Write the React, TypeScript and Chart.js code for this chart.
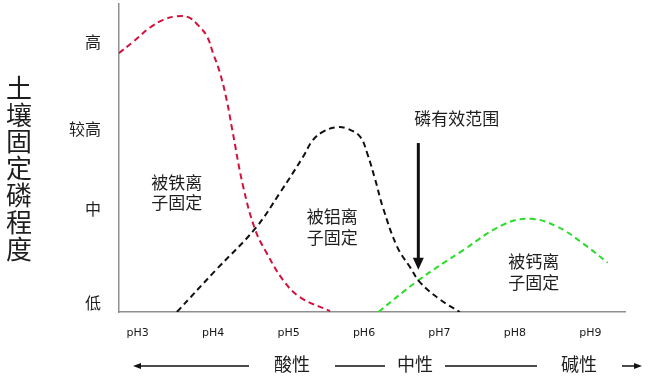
import React, { useEffect, useRef } from 'react';
import { Chart, registerables } from 'chart.js';

Chart.register(...registerables);

// x ticks (pH)
const phValues = [3, 4, 5, 6, 7, 8, 9];
const phLabels = ['pH3', 'pH4', 'pH5', 'pH6', 'pH7', 'pH8', 'pH9'];
// y ticks (fixing level)
const levelValues = [0.1, 1.17, 2.08, 3.07];
const levelLabels = ['低', '中', '较高', '高'];

// 被铁离子固定 (red)
const ironX = [2.75, 2.94, 3.16, 3.34, 3.52, 3.67, 3.8, 3.92, 4.0, 4.09, 4.18, 4.25, 4.4, 4.56, 4.71, 4.93, 5.15, 5.55];
const ironY = [2.94, 3.07, 3.23, 3.32, 3.36, 3.35, 3.26, 3.13, 2.94, 2.72, 2.41, 2.09, 1.42, 0.93, 0.67, 0.36, 0.17, 0.01];
// 被铝离子固定 (black)
const alX = [3.52, 4.04, 4.56, 4.89, 5.19, 5.32, 5.46, 5.64, 5.79, 5.95, 6.04, 6.15, 6.25, 6.44, 6.61, 6.74, 7.01, 7.27];
const alY = [0, 0.48, 0.95, 1.36, 1.76, 1.95, 2.05, 2.1, 2.08, 1.99, 1.81, 1.5, 1.19, 0.74, 0.51, 0.34, 0.14, 0];
// 被钙离子固定 (green)
const caX = [6.19, 6.72, 7.31, 7.84, 8.2, 8.56, 8.9, 9.23];
const caY = [0, 0.36, 0.7, 0.99, 1.06, 0.97, 0.78, 0.56];

const yTitleChars = ['土', '壤', '固', '定', '磷', '程', '度'];

const CJK = '"Noto Sans CJK SC", "Noto Sans", sans-serif';
const TEXT = '#1e1e1e';

const toPts = (xs: number[], ys: number[]) => xs.map((x, i) => ({ x, y: ys[i] }));

const annotationPlugin = {
  id: 'annotations',
  afterDraw(chart: any) {
    const { ctx, scales } = chart;
    const xs = scales.x;
    const ys = scales.y;
    const X = (v: number) => xs.getPixelForValue(v);
    const Y = (v: number) => ys.getPixelForValue(v);
    ctx.save();
    ctx.fillStyle = TEXT;
    ctx.strokeStyle = '#111';
    ctx.textAlign = 'center';
    ctx.textBaseline = 'middle';

    // region labels
    ctx.font = `17px ${CJK}`;
    const labels: [string, number, number][] = [
      ['被铁离', 3.52, 1.47],
      ['子固定', 3.52, 1.24],
      ['被铝离', 5.58, 1.08],
      ['子固定', 5.58, 0.85],
      ['被钙离', 8.25, 0.57],
      ['子固定', 8.25, 0.33],
      ['磷有效范围', 7.23, 2.2],
    ];
    labels.forEach(([t, x, y]) => ctx.fillText(t, X(x), Y(y)));

    // vertical arrow
    const ax = X(6.72);
    const ay0 = Y(1.92);
    const ay1 = Y(0.48);
    ctx.lineWidth = 3;
    ctx.beginPath();
    ctx.moveTo(ax, ay0);
    ctx.lineTo(ax, ay1 - 10);
    ctx.stroke();
    ctx.fillStyle = '#111';
    ctx.beginPath();
    ctx.moveTo(ax - 5.5, ay1 - 12);
    ctx.lineTo(ax + 5.5, ay1 - 12);
    ctx.lineTo(ax, ay1);
    ctx.closePath();
    ctx.fill();

    // y title (vertical stacked)
    ctx.fillStyle = TEXT;
    ctx.font = `26px ${CJK}`;
    yTitleChars.forEach((c, i) => ctx.fillText(c, 19, 88 + i * 26.8));

    // bottom row: acid - neutral - alkaline
    const by = 366;
    ctx.font = `18px ${CJK}`;
    ctx.fillText('酸性', 292, by - 2);
    ctx.fillText('中性', 415, by - 2);
    ctx.fillText('碱性', 579, by - 2);
    ctx.lineWidth = 1.6;
    ctx.strokeStyle = '#111';
    ctx.fillStyle = '#111';
    ctx.beginPath();
    ctx.moveTo(139, by);
    ctx.lineTo(249, by);
    ctx.moveTo(335, by);
    ctx.lineTo(385, by);
    ctx.moveTo(445, by);
    ctx.lineTo(537, by);
    ctx.moveTo(622, by);
    ctx.lineTo(636, by);
    ctx.stroke();
    ctx.beginPath();
    ctx.moveTo(133, by);
    ctx.lineTo(141, by - 3);
    ctx.lineTo(141, by + 3);
    ctx.closePath();
    ctx.fill();
    ctx.beginPath();
    ctx.moveTo(642, by);
    ctx.lineTo(634, by - 3);
    ctx.lineTo(634, by + 3);
    ctx.closePath();
    ctx.fill();
    ctx.restore();
  },
};

export default function App() {
  const ref = useRef<HTMLCanvasElement | null>(null);

  useEffect(() => {
    if (!ref.current) return;
    const lineDs = (label: string, pts: any, color: string) => ({
      label,
      data: pts,
      borderColor: color,
      backgroundColor: color,
      borderWidth: 2,
      borderDash: [6, 4],
      pointRadius: 0,
      fill: false,
      tension: 0.4,
    });
    const chart = new Chart(ref.current, {
      type: 'line',
      data: {
        datasets: [
          lineDs('被铁离子固定', toPts(ironX, ironY), '#d4113c'),
          lineDs('被铝离子固定', toPts(alX, alY), '#111111'),
          lineDs('被钙离子固定', toPts(caX, caY), '#2bdc2b'),
        ],
      },
      options: {
        animation: false,
        responsive: false,
        maintainAspectRatio: false,
        layout: { autoPadding: false, padding: { left: 0, top: 4, right: 37, bottom: 0 } },
        plugins: {
          legend: { display: false },
          tooltip: { enabled: false },
        },
        scales: {
          x: {
            type: 'linear',
            min: 2.753,
            max: 9.459,
            grid: { display: true, drawOnChartArea: false, drawTicks: false },
            border: { display: true, color: '#8f8f8f', width: 1.5 },
            afterBuildTicks: (s: any) => {
              s.ticks = phValues.map((v) => ({ value: v }));
            },
            afterFit: (s: any) => {
              s.height = 79;
              s.paddingLeft = 0;
              s.paddingRight = 0;
            },
            ticks: {
              autoSkip: false,
              maxRotation: 0,
              padding: 15,
              color: '#1a1a1a',
              font: { family: '"DejaVu Sans", sans-serif', size: 11 },
              callback: (_v: any, i: number) => phLabels[i],
            },
          },
          y: {
            type: 'linear',
            min: 0,
            max: 3.5,
            grid: { display: true, drawOnChartArea: false, drawTicks: false },
            border: { display: true, color: '#8f8f8f', width: 1.5 },
            afterBuildTicks: (s: any) => {
              s.ticks = levelValues.map((v) => ({ value: v }));
            },
            afterFit: (s: any) => {
              s.width = 119;
              s.paddingTop = 0;
              s.paddingBottom = 0;
            },
            ticks: {
              autoSkip: false,
              padding: 18,
              color: TEXT,
              font: { family: CJK, size: 16 },
              callback: (_v: any, i: number) => levelLabels[i],
            },
          },
        },
      },
      plugins: [annotationPlugin],
    });
    return () => chart.destroy();
  }, []);

  return (
    <div style={{ position: 'absolute', left: 0, top: 0, width: 662, height: 391, background: '#fff' }}>
      <canvas ref={ref} width={662} height={391} style={{ display: 'block' }} />
    </div>
  );
}
